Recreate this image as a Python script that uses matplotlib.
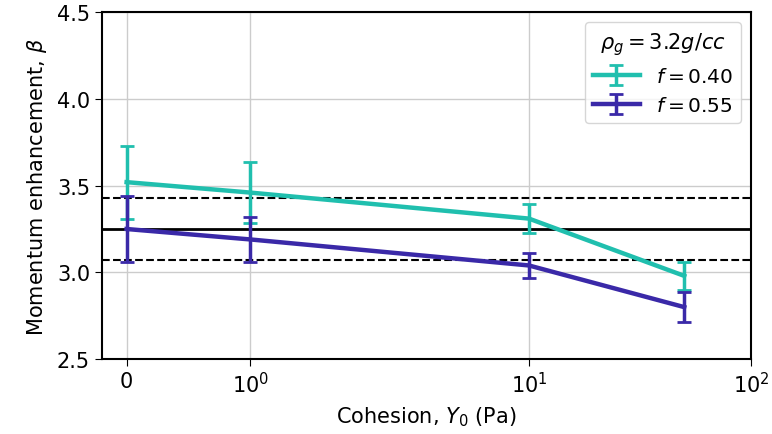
import matplotlib.pyplot as plt
from matplotlib.ticker import NullLocator

cohesion = [0, 1, 10, 50]
beta_040 = [3.52, 3.46, 3.31, 2.98]
err_040 = [0.21, 0.175, 0.085, 0.08]
beta_055 = [3.25, 3.19, 3.04, 2.80]
err_055 = [0.19, 0.13, 0.07, 0.088]
beta_ref = 3.25
beta_ref_err = 0.18

xticks = [0, 1, 10, 100]
xticklabels = ['0', '$10^0$', '$10^1$', '$10^2$']

fig = plt.figure(figsize=(7.72, 4.35), dpi=100)
ax = fig.add_axes([0.132, 0.172, 0.841, 0.798])

ax.errorbar(cohesion, beta_040, yerr=err_040, color='#20bfae', lw=3.2,
            capsize=5, capthick=2, elinewidth=2.5, label='$f = 0.40$', zorder=3)
ax.errorbar(cohesion, beta_055, yerr=err_055, color='#3a29a8', lw=3.2,
            capsize=5, capthick=2, elinewidth=2.5, label='$f = 0.55$', zorder=3)

ax.axhline(beta_ref, color='black', lw=2, zorder=2)
ax.axhline(beta_ref + beta_ref_err, color='black', lw=1.5, ls='--', zorder=2)
ax.axhline(beta_ref - beta_ref_err, color='black', lw=1.5, ls='--', zorder=2)

ax.set_xscale('symlog', linthresh=2)
ax.set_xlim(-0.2, 100)
ax.set_ylim(2.5, 4.5)
ax.set_xticks(xticks)
ax.set_xticklabels(xticklabels)
ax.xaxis.set_minor_locator(NullLocator())
ax.set_yticks([2.5, 3.0, 3.5, 4.0, 4.5])
ax.grid(True, color='#cccccc', lw=1)
ax.set_axisbelow(True)
ax.tick_params(labelsize=15, length=5)
for s in ax.spines.values():
    s.set_linewidth(1.5)

ax.set_xlabel('Cohesion, $Y_0$ (Pa)', fontsize=15, labelpad=6)
ax.set_ylabel(r'Momentum enhancement, $\beta$', fontsize=15, labelpad=6)

leg = ax.legend(title=r'$\rho_g = 3.2g/cc$', fontsize=14.5, title_fontsize=15,
                loc='upper right', handlelength=2.3)

fig.savefig('out.png', dpi=100)
